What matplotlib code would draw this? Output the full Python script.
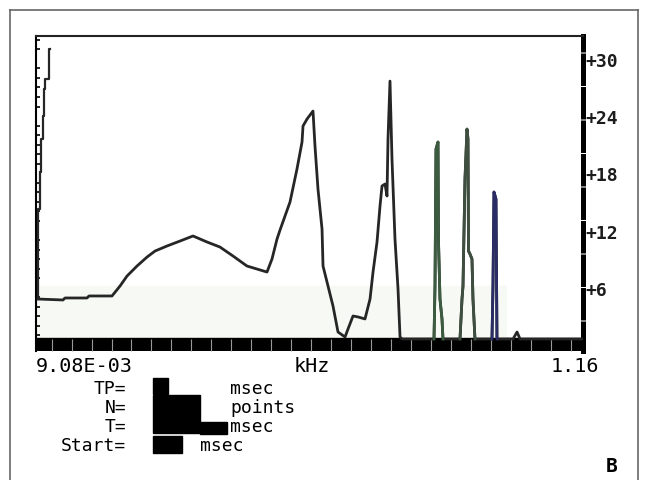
import matplotlib.pyplot as plt
from matplotlib.patches import Rectangle
from matplotlib.lines import Line2D
from matplotlib.ticker import MultipleLocator

"""
Spectrum display: magnitude vs frequency (kHz), old analyser screen look
"""

# --- DATA ---
# main trace, frequency in kHz and level
freq = [0.0133, 0.0659, 0.0701, 0.1164, 0.1206, 0.1690, 0.1858, 0.2006, 0.2216, 0.2427,
        0.2595, 0.2847, 0.3121, 0.3394, 0.3689, 0.3962, 0.4236, 0.4530, 0.4951, 0.5056,
        0.5162, 0.5225, 0.5435, 0.5582, 0.5688, 0.5709, 0.5793, 0.5919, 0.5961, 0.6024,
        0.6109, 0.6130, 0.6235, 0.6340, 0.6445, 0.6593, 0.6656, 0.6761, 0.6866, 0.7013,
        0.7119, 0.7182, 0.7266, 0.7329, 0.7371, 0.7434, 0.7476, 0.7497, 0.7539, 0.7581,
        0.7644, 0.7708, 0.7750, 0.7792, 0.8465, 0.8486, 0.8507, 0.8549, 0.8560, 0.8591,
        0.8633, 0.8654, 0.9012, 0.9054, 0.9075, 0.9117, 0.9159, 0.9180, 0.9191, 0.9222,
        0.9264, 0.9285, 0.9327, 0.9685, 0.9706, 0.9727, 0.9769, 0.9790, 1.0128, 1.0212,
        1.0275, 1.1579]
level = [4.82, 4.72, 4.93, 4.93, 5.14, 5.14, 6.18, 7.23, 8.28, 9.22,
         9.85, 10.38, 10.90, 11.43, 10.80, 10.27, 9.33, 8.28, 7.65, 9.01,
         11.11, 12.05, 14.99, 18.45, 21.28, 22.96, 23.69, 24.53, 20.86, 16.35,
         12.16, 8.28, 6.18, 4.09, 1.36, 0.84, 1.68, 3.04, 2.94, 2.73,
         4.82, 7.65, 10.80, 14.57, 16.67, 16.88, 15.62, 21.59, 27.67, 19.50,
         11.11, 5.87, 0.84, 0.63, 0.63, 6.18, 20.55, 21.28, 10.80, 4.82,
         2.73, 0.63, 0.63, 4.82, 6.18, 17.40, 22.64, 21.59, 9.85, 9.54,
         9.01, 4.82, 0.63, 0.63, 6.18, 16.04, 15.30, 0.63, 0.63, 1.36,
         0.63, 0.63]

# low-frequency spike along the left edge
spike_freq = [0.0133, 0.0169, 0.0202, 0.0238, 0.0259, 0.0287, 0.0358, 0.0379]
spike_level = [4.8, 14.3, 18.1, 21.6, 24.0, 26.8, 27.9, 31.0]

f_min, f_max = 0.00908, 1.16
right_ticks = [6, 12, 18, 24, 30]
right_labels = ["+6", "+12", "+18", "+24", "+30"]

# --- END DATA ---

W, H = 647, 481
mono = "DejaVu Sans Mono"

fig = plt.figure(figsize=(W / 100, H / 100), dpi=100)
fig.patch.set_facecolor("white")


def fx(px):
    return px / W


def fy(py):
    return 1 - py / H


ax = fig.add_axes([fx(36), fy(352), fx(583) - fx(36), fy(37) - fy(352)])
ax.set_xlim(f_min, f_max)
ax.set_ylim(-0.63, 32.4)

# faint band under +6 and the black floor bar
ax.axhspan(0.73, 6.18, xmin=0, xmax=0.86, color="#f7f9f5", zorder=0)
ax.axhspan(-0.63, 0.73, color="black", zorder=1)

ax.plot(freq, level, color="#262626", lw=2.0, zorder=3)
ax.plot(spike_freq, spike_level, color="#262626", lw=1.6, drawstyle="steps-pre", zorder=3)

# tinted peaks
for lo, hi, col in [(0.846, 0.866, "#3c5c40"), (0.90, 0.933, "#3e4f40"), (0.968, 0.98, "#2a2c66")]:
    fs = [f for f in freq if lo <= f <= hi]
    ls = [l for f, l in zip(freq, level) if lo <= f <= hi]
    ax.plot(fs, ls, color=col, lw=2.0, zorder=4)

# spines
ax.spines["bottom"].set_visible(False)
ax.spines["left"].set_linewidth(1.5)
ax.spines["top"].set_linewidth(1.5)
ax.spines["top"].set_color("#222222")
ax.spines["right"].set_linewidth(3.6)
ax.spines["right"].set_linestyle((0, (5.5, 1.2)))

# faint tick gaps in the floor bar
ax.xaxis.set_minor_locator(MultipleLocator(0.042))
ax.set_xticks([])
ax.tick_params(axis="x", which="minor", direction="in", color="#9a9a9a", length=9, width=0.8, bottom=True)

# left small ticks every unit, right labels
ax.yaxis.set_minor_locator(MultipleLocator(1))
ax.yaxis.tick_right()
ax.set_yticks(right_ticks)
ax.set_yticklabels(right_labels, fontfamily=mono, fontsize=13, fontweight="bold")
ax.tick_params(axis="y", which="major", length=0, pad=2, labelcolor="#1c1c1c")
ax.tick_params(axis="y", which="minor", left=True, right=False, direction="in", length=3, width=1.2)

# axis end labels
fig.text(fx(36), fy(372), "9.08E-03", fontfamily=mono, fontsize=14.5, va="baseline", ha="left")
fig.text(fx(312), fy(372), "kHz", fontfamily=mono, fontsize=14.5, va="baseline", ha="center")
fig.text(fx(599), fy(372), "1.16", fontfamily=mono, fontsize=14.5, va="baseline", ha="right")

# parameter lines
for lab, unit, ux, by in [("TP=", "msec", 230, 394), ("N=", "points", 230, 413),
                          ("T=", "msec", 230, 432), ("Start=", "msec", 200, 451)]:
    fig.text(fx(126), fy(by), lab, fontfamily=mono, fontsize=13, va="baseline", ha="right")
    fig.text(fx(ux), fy(by), unit, fontfamily=mono, fontsize=13, va="baseline", ha="left")

# blacked-out values
for x0, y0, x1, y1 in [(153, 379, 168, 395), (153, 396, 200, 434), (200, 423, 227, 435),
                       (153, 437, 182, 454)]:
    fig.patches.append(Rectangle((fx(x0), fy(y1)), fx(x1) - fx(x0), fy(y0) - fy(y1),
                                 transform=fig.transFigure, color="black", zorder=5))

fig.text(fx(612), fy(472), "B", fontfamily=mono, fontsize=14, fontweight="bold", va="baseline", ha="center")

# outer frame
for xs, ys in [([10, 638], [11, 11]), ([10, 10], [11, 481]), ([638, 638], [11, 481])]:
    fig.add_artist(Line2D([fx(x) for x in xs], [fy(y) for y in ys], color="#666666", lw=1.2,
                          transform=fig.transFigure))

plt.savefig("out.png", dpi=100)
